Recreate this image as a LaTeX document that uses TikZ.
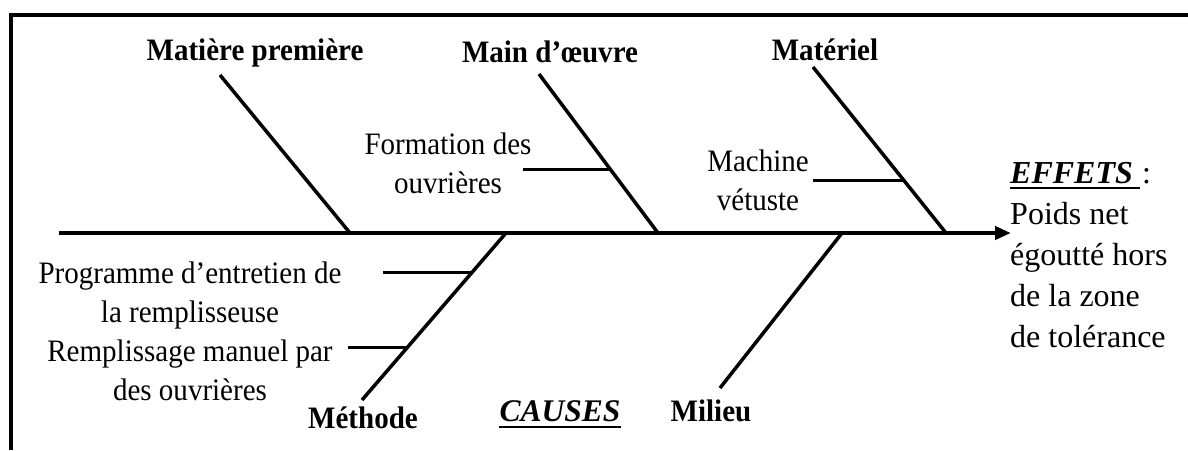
\documentclass[tikz,border=0pt]{standalone}
\usepackage{fontspec}
\setmainfont[FakeStretch=0.93]{Liberation Serif}
\newfontfamily\plainserif{Liberation Serif}
\usetikzlibrary{arrows.meta,calc}
\begin{document}
\begin{tikzpicture}[x=1pt,y=-1pt,
  frame/.style={line width=4pt},
  spine/.style={line width=4pt,-{Triangle[length=16pt,width=13pt]}},
  bone/.style={line width=3.5pt},
  subbone/.style={line width=3pt},
  lab/.style={font=\fontsize{31.2}{37}\selectfont\bfseries, inner sep=0pt, anchor=base},
  cause/.style={font=\fontsize{31.2}{39}\selectfont, align=center, inner sep=0pt, anchor=base},
  big/.style={font=\plainserif\fontsize{32}{41}\selectfont, inner sep=0pt, anchor=base west},
  uline/.style={line width=2.5pt}]
\useasboundingbox (0,0) rectangle (1188,450);
% frame
\coordinate (fr1) at (1188,15);
\coordinate (fr2) at (11,15);
\coordinate (fr3) at (11,450);
\draw[frame] (fr1) -- (fr2) -- (fr3);
% spine
\coordinate (sp0) at (59,233);
\coordinate (sp1) at (1011,233);
\draw[spine] (sp0) -- (sp1);
% main bones
\coordinate (mp1) at (220,75);   \coordinate (mp0) at (350,233);
\coordinate (mo1) at (539,74);   \coordinate (mo0) at (658,233);
\coordinate (ma1) at (813,67);   \coordinate (ma0) at (946,233);
\coordinate (me0) at (506,233);  \coordinate (me1) at (362,400);
\coordinate (mi0) at (842,233);  \coordinate (mi1) at (720,388);
\draw[bone] (mp1) -- (mp0);
\draw[bone] (mo1) -- (mo0);
\draw[bone] (ma1) -- (ma0);
\draw[bone] (me0) -- (me1);
\draw[bone] (mi0) -- (mi1);
% sub bones
\coordinate (fo0) at (523,169);  \coordinate (fo1) at (610,169);
\coordinate (mv0) at (813,180);  \coordinate (mv1) at (903,180);
\coordinate (pg0) at (383,272);  \coordinate (pg1) at (472,272);
\coordinate (rm0) at (348,347);  \coordinate (rm1) at (408,347);
\draw[subbone] (fo0) -- (fo1);
\draw[subbone] (mv0) -- (mv1);
\draw[subbone] (pg0) -- (pg1);
\draw[subbone] (rm0) -- (rm1);
% category labels
\node[lab] (matp) at (255,60) {Matière première};
\node[lab] (maino) at (550,62) {Main d’œuvre};
\node[lab] (mat) at (825,60) {Matériel};
\node[lab] (meth) at (363,428) {Méthode};
\node[lab] (mil) at (711,421) {Milieu};
% causes (base anchor = baseline of last line)
\node[cause] (form) at (448,193) {Formation des\\ouvrières};
\node[cause] (mach) at (758,210) {Machine\\vétuste};
\node[cause] (prog) at (190,322) {Programme d’entretien de\\la remplisseuse};
\node[cause] (remp) at (190,400) {Remplissage manuel par\\des ouvrières};
% CAUSES heading
\node[big, anchor=base, font=\plainserif\fontsize{31.5}{41}\selectfont] (causes) at (560,421) {\bfseries\itshape CAUSES};
\draw[uline] ($(causes.base west)+(0,6)$) -- ($(causes.base east)+(0,6)$);
% effects
\node[big] (effets) at (1010,183) {\bfseries\itshape EFFETS};
\node[big] (colon) at (1142,183) {:};
\draw[uline] ($(effets.base west)+(0,5)$) -- ($(colon.base west)+(-2,5)$);
\node[big, align=left] (poids) at (1010,347) {Poids net\\égoutté hors\\de la zone\\de tolérance};
\end{tikzpicture}
\end{document}
